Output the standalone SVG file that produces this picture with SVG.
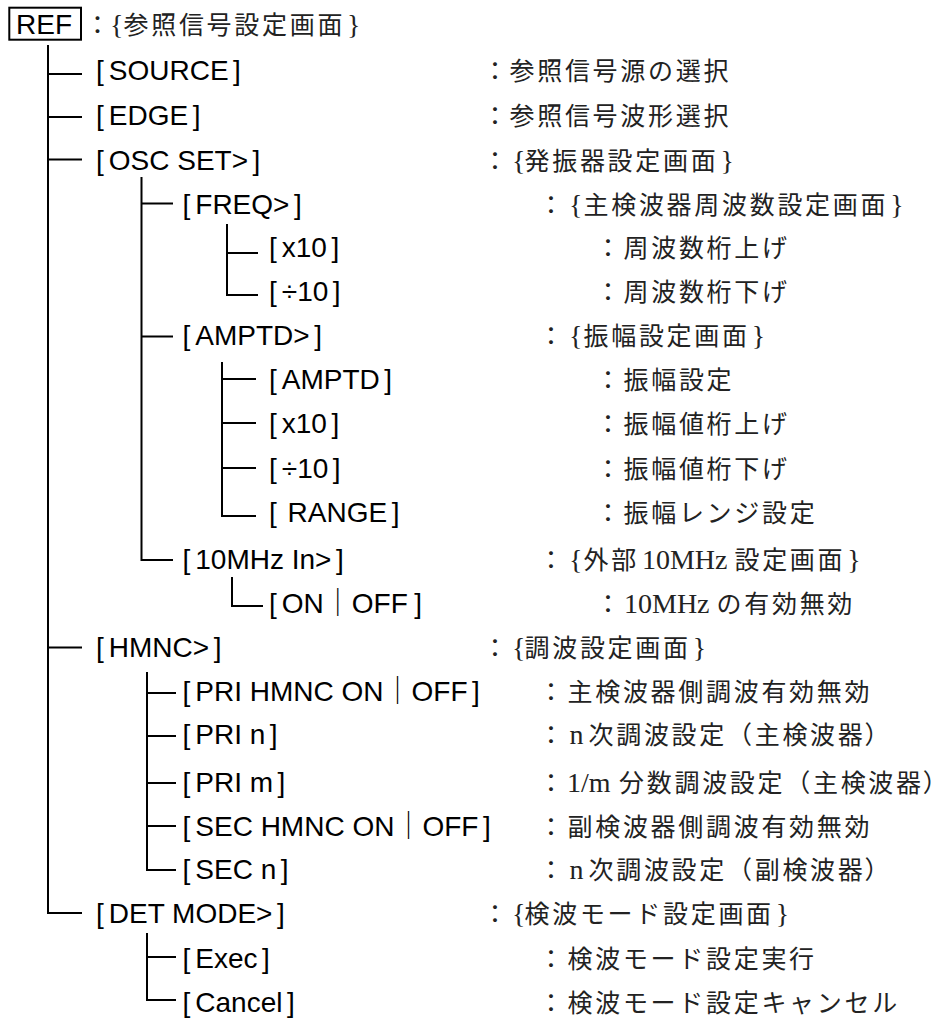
<svg xmlns="http://www.w3.org/2000/svg" width="946" height="1019" viewBox="0 0 946 1019">
<style>
.lbl{font-family:"Liberation Sans",Arial,"Noto Sans CJK JP",sans-serif;font-size:28px;fill:#000}
.col{font-family:"Noto Sans CJK JP",sans-serif;font-size:25px;text-anchor:middle;fill:#222}
.dsc{font-family:"Liberation Serif","Noto Sans CJK JP",serif;font-size:25px;letter-spacing:2.7px;fill:#222}
.lat{font-size:28px;letter-spacing:0}
.pal{font-feature-settings:"palt" 1;letter-spacing:0}
.ln{stroke:#000;stroke-width:2;fill:none;stroke-linejoin:miter;stroke-linecap:butt}
.box{stroke:#000;stroke-width:2;fill:none}
</style>
<rect width="946" height="1019" fill="#fff"/>
<g id="connectors">
<path class="ln" d="M48 45V913H82"/>
<path class="ln" d="M48 74H82M48 117H82M48 159.5H82M48 647.5H82"/>
<path class="ln" d="M141.5 177V560H173"/>
<path class="ln" d="M141.5 203.5H173M141.5 336.5H173"/>
<path class="ln" d="M227 224V295H258"/>
<path class="ln" d="M227 253H258"/>
<path class="ln" d="M222 362V516H256"/>
<path class="ln" d="M222 379H256M222 423H256M222 468H256"/>
<path class="ln" d="M232 577V606H263"/>
<path class="ln" d="M147 672V870H176"/>
<path class="ln" d="M147 693H176M147 736H176M147 783H176M147 826H176"/>
<path class="ln" d="M147 933V1000H176"/>
<path class="ln" d="M147 957H176"/>
</g>
<g id="n-ref">
<rect class="box" x="9.3" y="7.7" width="71.7" height="32"/>
<text class="lbl" x="16" y="33.5">REF</text>
<text class="col" x="97.5" y="33.5">：</text>
<text class="dsc" y="33.5"><tspan class="lat" x="110">{</tspan><tspan x="123.5">参照信号設定画面</tspan><tspan class="lat" dx="2">}</tspan></text>
</g>
<g id="n-source">
<text class="lbl" x="96" y="80">[<tspan dx="5">SOURCE</tspan><tspan dx="4.5">]</tspan></text>
<text class="col" x="495" y="80">：</text>
<text class="dsc" x="509.5" y="80">参照信号源の選択</text>
</g>
<g id="n-edge">
<text class="lbl" x="96" y="125">[<tspan dx="5">EDGE</tspan><tspan dx="4.5">]</tspan></text>
<text class="col" x="495" y="125">：</text>
<text class="dsc" x="509.5" y="125">参照信号波形選択</text>
</g>
<g id="n-oscset">
<text class="lbl" x="96" y="169.5">[<tspan dx="5">OSC SET&gt;</tspan><tspan dx="4.5">]</tspan></text>
<text class="col" x="495" y="169.5">：</text>
<text class="dsc" y="169.5"><tspan class="lat" x="512">{</tspan><tspan x="524.5">発振器設定画面</tspan><tspan class="lat" dx="2">}</tspan></text>
</g>
<g id="n-freq">
<text class="lbl" x="182.5" y="213.5">[<tspan dx="5">FREQ&gt;</tspan><tspan dx="4.5">]</tspan></text>
<text class="col" x="551" y="213.5">：</text>
<text class="dsc" y="213.5"><tspan class="lat" x="569">{</tspan><tspan x="583.5">主検波器周波数設定画面</tspan><tspan class="lat" dx="2">}</tspan></text>
</g>
<g id="n-freq-x10">
<text class="lbl" x="269" y="257">[<tspan dx="5">x10</tspan><tspan dx="4.5">]</tspan></text>
<text class="col" x="608" y="257">：</text>
<text class="dsc" x="623.5" y="257">周波数桁上げ</text>
</g>
<g id="n-freq-div10">
<text class="lbl" x="269" y="300.5">[<tspan dx="5">÷10</tspan><tspan dx="4.5">]</tspan></text>
<text class="col" x="608" y="300.5">：</text>
<text class="dsc" x="623.5" y="300.5">周波数桁下げ</text>
</g>
<g id="n-amptd-menu">
<text class="lbl" x="182.5" y="345">[<tspan dx="5">AMPTD&gt;</tspan><tspan dx="4.5">]</tspan></text>
<text class="col" x="551" y="345">：</text>
<text class="dsc" y="345"><tspan class="lat" x="569">{</tspan><tspan x="583.5">振幅設定画面</tspan><tspan class="lat" dx="2">}</tspan></text>
</g>
<g id="n-amptd">
<text class="lbl" x="269" y="388.5">[<tspan dx="5">AMPTD</tspan><tspan dx="4.5">]</tspan></text>
<text class="col" x="608" y="388.5">：</text>
<text class="dsc" x="623.5" y="388.5">振幅設定</text>
</g>
<g id="n-amptd-x10">
<text class="lbl" x="269" y="433">[<tspan dx="5">x10</tspan><tspan dx="4.5">]</tspan></text>
<text class="col" x="608" y="433">：</text>
<text class="dsc" x="623.5" y="433">振幅値桁上げ</text>
</g>
<g id="n-amptd-div10">
<text class="lbl" x="269" y="478">[<tspan dx="5">÷10</tspan><tspan dx="4.5">]</tspan></text>
<text class="col" x="608" y="478">：</text>
<text class="dsc" x="623.5" y="478">振幅値桁下げ</text>
</g>
<g id="n-range">
<text class="lbl" x="269" y="522">[ <tspan dx="3">RANGE</tspan><tspan dx="4.5">]</tspan></text>
<text class="col" x="608" y="522">：</text>
<text class="dsc" x="623.5" y="522">振幅レンジ設定</text>
</g>
<g id="n-10mhz">
<text class="lbl" x="182.5" y="569">[<tspan dx="5">10MHz In&gt;</tspan><tspan dx="4.5">]</tspan></text>
<text class="col" x="551" y="569">：</text>
<text class="dsc" y="569"><tspan class="lat" x="569">{</tspan><tspan x="583.5">外部</tspan><tspan class="lat" style="word-spacing:-4px"> 10MHz</tspan><tspan class="lat"> </tspan><tspan>設定画面</tspan><tspan class="lat" dx="2">}</tspan></text>
</g>
<g id="n-10mhz-onoff">
<text class="lbl" x="269" y="612.5">[<tspan dx="5">ON｜OFF</tspan><tspan dx="6.5">]</tspan></text>
<text class="col" x="608" y="612.5">：</text>
<text class="dsc" x="624" y="612.5"><tspan class="lat">10MHz </tspan><tspan>の有効無効</tspan></text>
</g>
<g id="n-hmnc">
<text class="lbl" x="96" y="657">[<tspan dx="5">HMNC&gt;</tspan><tspan dx="4.5">]</tspan></text>
<text class="col" x="495" y="657">：</text>
<text class="dsc" y="657"><tspan class="lat" x="512">{</tspan><tspan x="524.5">調波設定画面</tspan><tspan class="lat" dx="2">}</tspan></text>
</g>
<g id="n-pri-hmnc">
<text class="lbl" x="182.5" y="700.5">[<tspan dx="5">PRI HMNC ON｜OFF</tspan><tspan dx="4.5">]</tspan></text>
<text class="col" x="551" y="700.5">：</text>
<text class="dsc" x="567.5" y="700.5">主検波器側調波有効無効</text>
</g>
<g id="n-pri-n">
<text class="lbl" x="182.5" y="744">[<tspan dx="5">PRI n</tspan><tspan dx="4.5">]</tspan></text>
<text class="col" x="551" y="744">：</text>
<text class="dsc" x="569.5" y="744"><tspan class="lat" style="word-spacing:-2px">n </tspan><tspan>次調波設定（主検波器</tspan><tspan class="pal">）</tspan></text>
</g>
<g id="n-pri-m">
<text class="lbl" x="182.5" y="792">[<tspan dx="5">PRI m</tspan><tspan dx="4.5">]</tspan></text>
<text class="col" x="551" y="792">：</text>
<text class="dsc" x="567" y="792"><tspan class="lat">1/m </tspan><tspan dx="1.5">分数調波設定（主検波器</tspan><tspan class="pal">）</tspan></text>
</g>
<g id="n-sec-hmnc">
<text class="lbl" x="182.5" y="835.5">[<tspan dx="5">SEC HMNC ON｜OFF</tspan><tspan dx="4.5">]</tspan></text>
<text class="col" x="551" y="835.5">：</text>
<text class="dsc" x="567.5" y="835.5">副検波器側調波有効無効</text>
</g>
<g id="n-sec-n">
<text class="lbl" x="182.5" y="878.5">[<tspan dx="5">SEC n</tspan><tspan dx="4.5">]</tspan></text>
<text class="col" x="551" y="878.5">：</text>
<text class="dsc" x="569.5" y="878.5"><tspan class="lat" style="word-spacing:-2px">n </tspan><tspan>次調波設定（副検波器</tspan><tspan class="pal">）</tspan></text>
</g>
<g id="n-detmode">
<text class="lbl" x="96" y="923">[<tspan dx="5">DET MODE&gt;</tspan><tspan dx="4.5">]</tspan></text>
<text class="col" x="495" y="923">：</text>
<text class="dsc" y="923"><tspan class="lat" x="512">{</tspan><tspan x="524.5">検波モード設定画面</tspan><tspan class="lat" dx="2">}</tspan></text>
</g>
<g id="n-exec">
<text class="lbl" x="182.5" y="968">[<tspan dx="5">Exec</tspan><tspan dx="4.5">]</tspan></text>
<text class="col" x="551" y="968">：</text>
<text class="dsc" x="567.5" y="968">検波モード設定実行</text>
</g>
<g id="n-cancel">
<text class="lbl" x="182.5" y="1012">[<tspan dx="5">Cancel</tspan><tspan dx="4.5">]</tspan></text>
<text class="col" x="551" y="1012">：</text>
<text class="dsc" x="567.5" y="1012">検波モード設定キャンセル</text>
</g>
</svg>
